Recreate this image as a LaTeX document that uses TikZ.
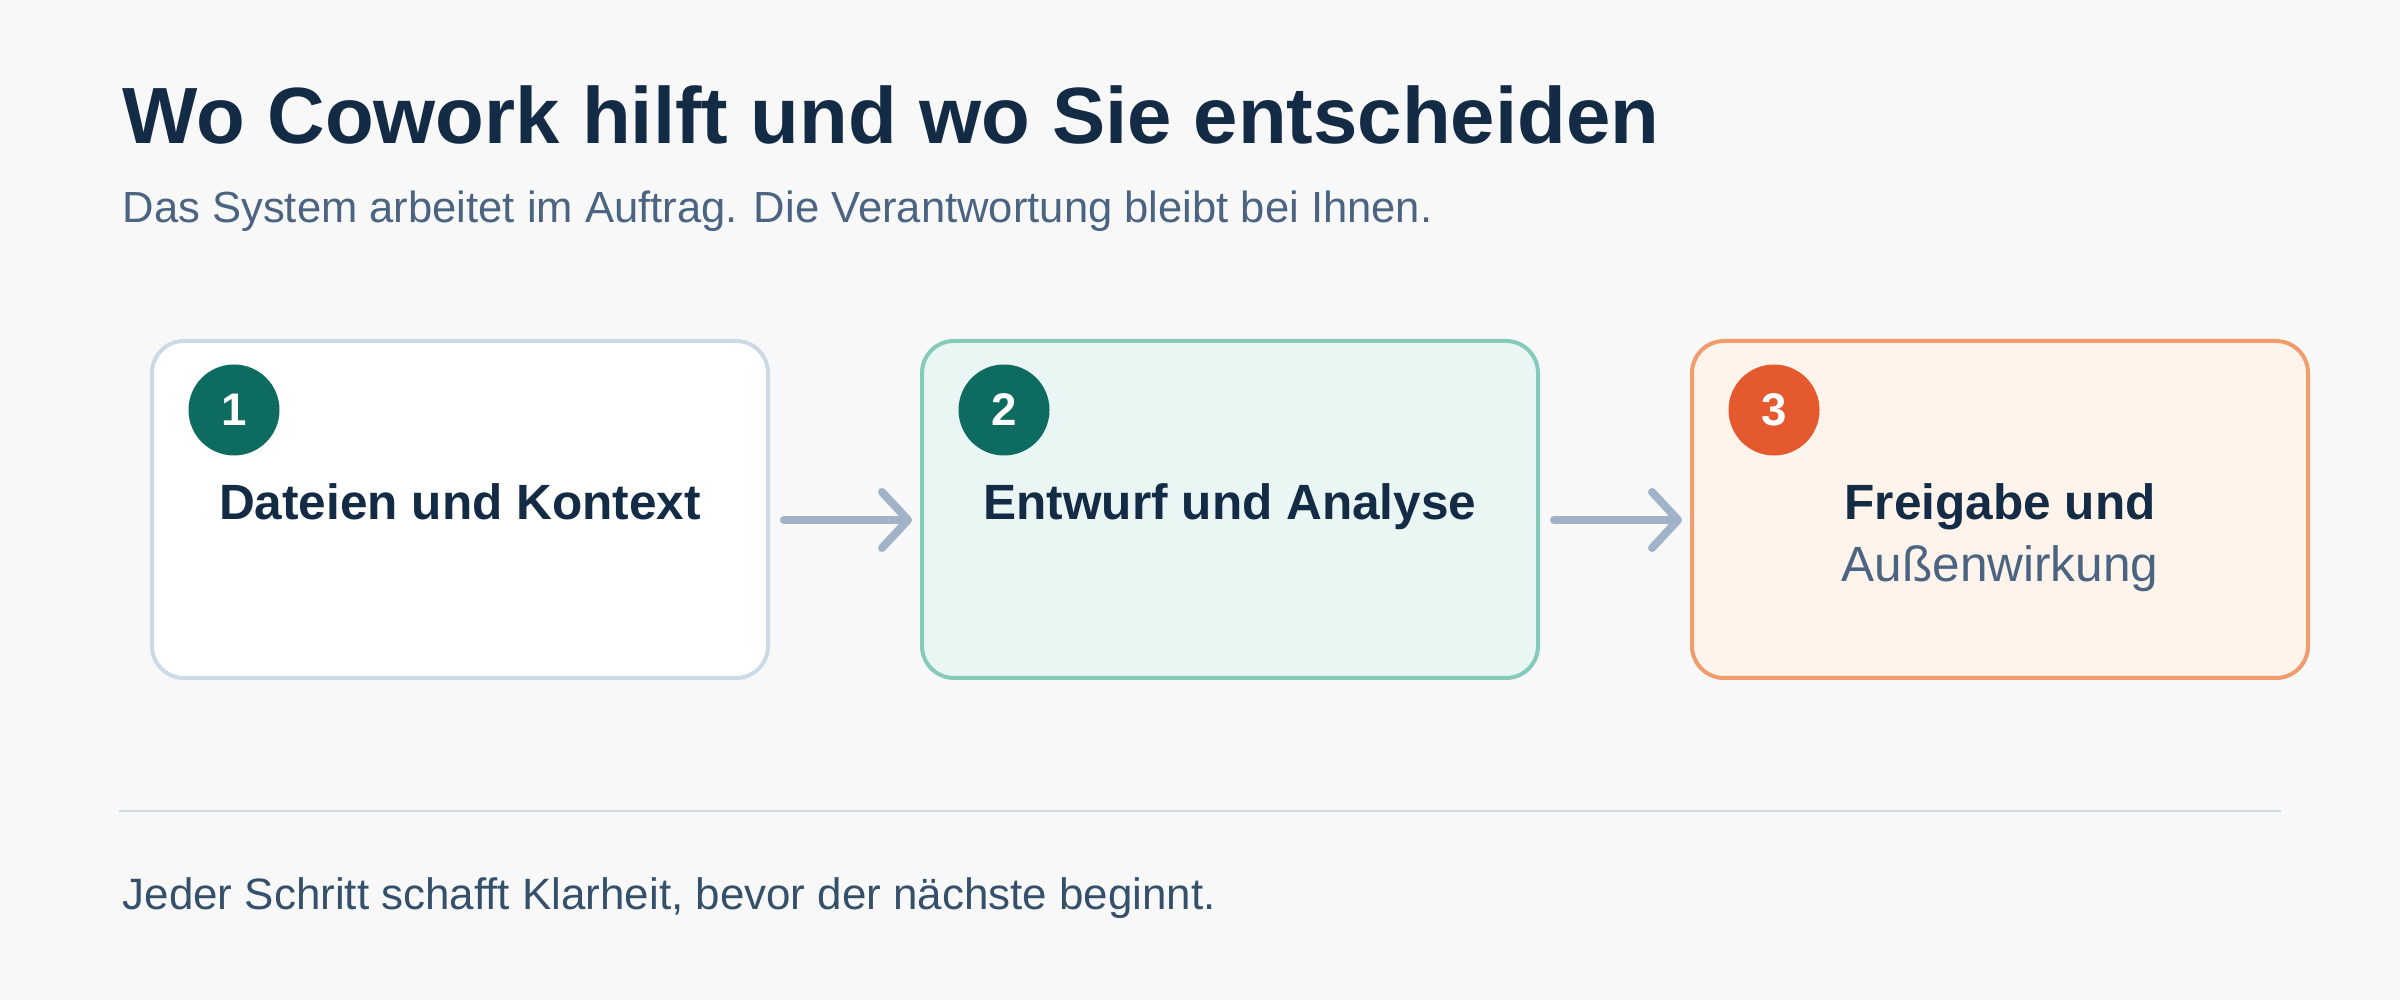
\documentclass[tikz,border=0pt]{standalone}
\usepackage{fontspec}
\setmainfont{Liberation Sans}
\usepackage{tikz}
\usetikzlibrary{arrows.meta}
\definecolor{bgcol}{HTML}{F8F8F8}
\definecolor{navy}{HTML}{142B45}
\definecolor{slate}{HTML}{4A6481}
\definecolor{footcol}{HTML}{34506B}
\definecolor{rulecol}{HTML}{CFDCE5}
\definecolor{arrowcol}{HTML}{A0B3C8}
\definecolor{teal}{HTML}{0E6B5F}
\definecolor{rust}{HTML}{E4592D}
\definecolor{greyline}{HTML}{CCD9E6}
\definecolor{mintline}{HTML}{84CBB9}
\definecolor{mintfill}{HTML}{EAF6F3}
\definecolor{peachline}{HTML}{F09C6C}
\definecolor{peachfill}{HTML}{FFF4EC}
\tikzstyle{stage} = [draw, rounded corners=0.32cm, line width=0.04cm, minimum width=6.16cm, minimum height=3.37cm, inner sep=0pt]
\tikzstyle{badge} = [circle, minimum size=0.91cm, inner sep=0pt, text=white, font=\fontsize{13}{13}\selectfont\bfseries]
\tikzstyle{label} = [anchor=base, inner sep=0pt, text=navy, font=\fontsize{14.1}{14.1}\selectfont\bfseries]
\tikzstyle{flow} = [draw=arrowcol, line width=0.08cm, line cap=round, -{Straight Barb[length=0.26cm, width=0.56cm, round]}, shorten <=0.14cm, shorten >=0.08cm]

\begin{document}
\begin{tikzpicture}
    \fill[bgcol] (0,0) rectangle (24,-10);
    \useasboundingbox (0,0) rectangle (24,-10);
    \node[anchor=base west, inner sep=0pt, text=navy, font=\fontsize{22.7}{22.7}\selectfont\bfseries] (title) at (1.22,-1.44) {Wo Cowork hilft und wo Sie entscheiden};
    \node[anchor=base west, inner sep=0pt, text=slate, font=\fontsize{12.4}{12.4}\selectfont] (subtitle) at (1.22,-2.23) {Das System arbeitet im Auftrag. Die Verantwortung bleibt bei Ihnen.};
    \node[stage, draw=greyline, fill=white] (box1) at (4.60,-5.095) {};
    \node[stage, draw=mintline, fill=mintfill] (box2) at (12.30,-5.095) {};
    \node[stage, draw=peachline, fill=peachfill] (box3) at (20.00,-5.095) {};
    \node[badge, fill=teal] (n1) at (2.34,-4.10) {1};
    \node[badge, fill=teal] (n2) at (10.04,-4.10) {2};
    \node[badge, fill=rust] (n3) at (17.74,-4.10) {3};
    \node[label] (t1) at (4.60,-5.20) {Dateien und Kontext};
    \node[label] (t2) at (12.30,-5.20) {Entwurf und Analyse};
    \node[label] (t3) at (20.00,-5.20) {Freigabe und};
    \node[label, text=slate, font=\fontsize{14.1}{14.1}\selectfont] (t3b) at (20.00,-5.82) {Außenwirkung};
    \draw[flow] (box1.east |- t1.base) -- (box2.west |- t2.base);
    \draw[flow] (box2.east |- t2.base) -- (box3.west |- t3.base);
    \draw[rulecol, line width=0.025cm] (1.19,-8.11) -- (22.81,-8.11);
    \node[anchor=base west, inner sep=0pt, text=footcol, font=\fontsize{12.5}{12.5}\selectfont] (footer) at (1.22,-9.09) {Jeder Schritt schafft Klarheit, bevor der nächste beginnt.};
\end{tikzpicture}
\end{document}
